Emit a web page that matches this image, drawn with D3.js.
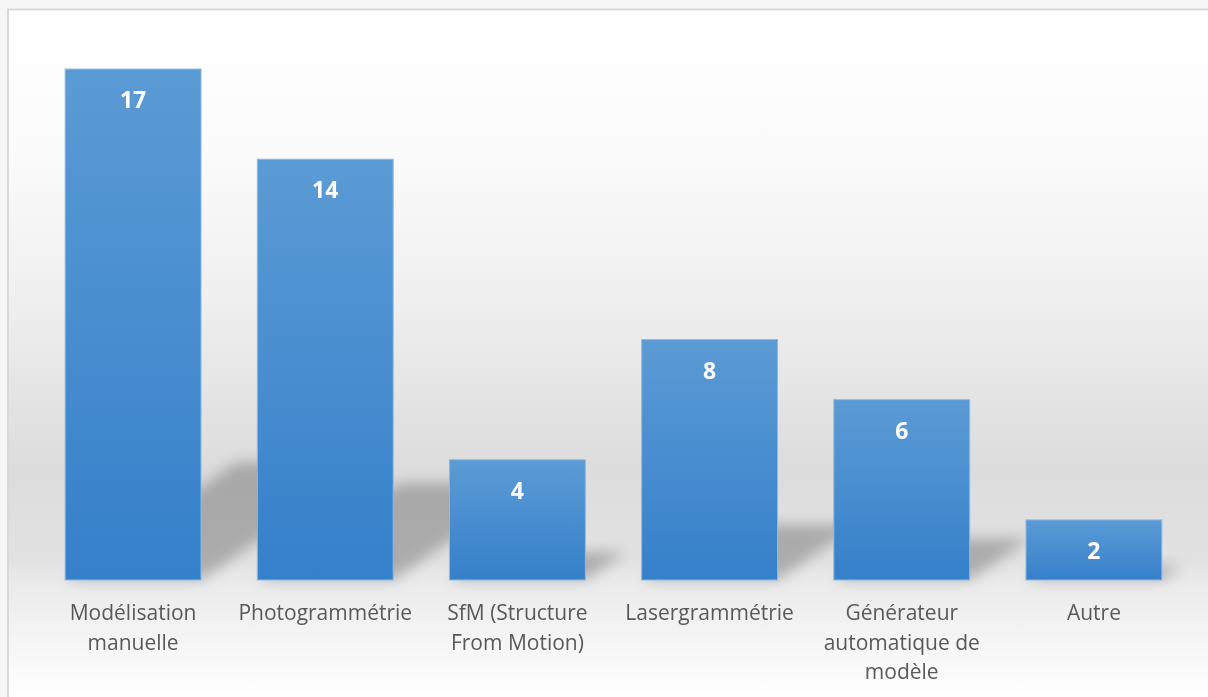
<!DOCTYPE html>
<html>
<head>
<meta charset="utf-8">
<script src="https://cdn.jsdelivr.net/npm/d3@7"></script>
<style>
  body { margin: 0; background: #f7f7f7; }
  svg { display: block; }
</style>
</head>
<body>
<div id="chart"></div>
<script>
var categories = ["Modélisation manuelle", "Photogrammétrie", "SfM (Structure From Motion)",
                  "Lasergrammétrie", "Générateur automatique de modèle", "Autre"];
var values = [17, 14, 4, 8, 6, 2];
// how each tick label breaks into lines
var tickLines = [
  ["Modélisation", "manuelle"],
  ["Photogrammétrie"],
  ["SfM (Structure", "From Motion)"],
  ["Lasergrammétrie"],
  ["Générateur", "automatique de", "modèle"],
  ["Autre"]
];
var yMax = 18;

var W = 1208, H = 697;
var base = 580;

var svg = d3.select("#chart").append("svg")
    .attr("width", W)
    .attr("height", H);

var defs = svg.append("defs");

// chart background: white at top, grey towards the bars' foot, white again below
var bg = defs.append("linearGradient")
    .attr("id", "bgGrad")
    .attr("gradientUnits", "userSpaceOnUse")
    .attr("x1", 0).attr("y1", 10).attr("x2", 0).attr("y2", H);
[[10, "#ffffff"], [150, "#fbfbfb"], [300, "#efefef"], [470, "#dcdcdc"],
 [560, "#e2e2e2"], [585, "#ebebeb"], [H, "#ffffff"]].forEach(function(s) {
  bg.append("stop").attr("offset", (s[0] - 10) / (H - 10)).attr("stop-color", s[1]);
});

var barGrad = defs.append("linearGradient")
    .attr("id", "barGrad")
    .attr("x1", 0).attr("y1", 0).attr("x2", 0).attr("y2", 1);
barGrad.append("stop").attr("offset", 0).attr("stop-color", "#5b9bd5");
barGrad.append("stop").attr("offset", 1).attr("stop-color", "#3580ca");

defs.append("filter")
    .attr("id", "blur")
    .attr("x", "-50%").attr("y", "-50%").attr("width", "200%").attr("height", "200%")
  .append("feGaussianBlur")
    .attr("stdDeviation", 7);

svg.append("rect")
    .attr("x", 8).attr("y", 9.5)
    .attr("width", W + 10).attr("height", H + 10)
    .attr("fill", "url(#bgGrad)")
    .attr("stroke", "#d9d9d9")
    .attr("stroke-width", 2);

var x = d3.scaleBand()
    .domain(categories)
    .range([37, 1190])
    .paddingInner(0.293)
    .paddingOuter(0.1465);

var y = d3.scaleLinear()
    .domain([0, yMax])
    .range([base, 39]);

var data = categories.map(function(c, i) { return {cat: c, value: values[i], lines: tickLines[i]}; });

// perspective shadows lying behind the bars, towards upper right
var k = 0.23, s = 0.336;
svg.append("g")
    .attr("filter", "url(#blur)")
  .selectAll("rect")
  .data(data)
  .enter().append("rect")
    .attr("x", function(d) { return x(d.cat); })
    .attr("y", function(d) { return y(d.value); })
    .attr("width", x.bandwidth())
    .attr("height", function(d) { return y(0) - y(d.value); })
    .attr("fill", "#000")
    .attr("fill-opacity", 0.24)
    .attr("transform", "matrix(1,0," + (-s) + "," + k + "," + (s * base) + "," + ((1 - k) * base) + ")");

var bar = svg.selectAll("g.bar")
    .data(data)
  .enter().append("g")
    .attr("class", "bar");

bar.append("rect")
    .attr("x", function(d) { return x(d.cat); })
    .attr("y", function(d) { return y(d.value); })
    .attr("width", x.bandwidth())
    .attr("height", function(d) { return y(0) - y(d.value); })
    .attr("fill", "url(#barGrad)")
    .attr("stroke", "#8db9e3")
    .attr("stroke-width", 1);

bar.append("text")
    .attr("x", function(d) { return x(d.cat) + x.bandwidth() / 2; })
    .attr("y", function(d) { return y(d.value) + 39; })
    .attr("text-anchor", "middle")
    .attr("fill", "#fff")
    .style("font-family", "'Open Sans', sans-serif")
    .style("font-weight", "bold")
    .style("font-size", "23px")
    .text(function(d) { return d.value; });

// category axis
var axis = svg.append("g")
    .attr("transform", "translate(0," + base + ")")
    .call(d3.axisBottom(x).tickSize(0).tickFormat(""));
axis.select(".domain").remove();

axis.selectAll(".tick text").remove();
axis.selectAll(".tick").append("text")
    .attr("text-anchor", "middle")
    .attr("fill", "#595959")
    .style("font-family", "'Open Sans', sans-serif")
    .style("font-size", "21px")
    .each(function(c) {
      var lines = tickLines[categories.indexOf(c)];
      var t = d3.select(this);
      lines.forEach(function(l, i) {
        t.append("tspan").attr("x", 0).attr("y", 40 + i * 29.5).text(l);
      });
    });
</script>
</body>
</html>
